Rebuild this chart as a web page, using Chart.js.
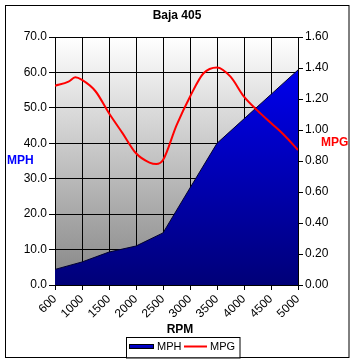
<!DOCTYPE html>
<html><head><meta charset="utf-8">
<script src="https://cdn.jsdelivr.net/npm/chart.js@4/dist/chart.umd.min.js"></script>
<style>html,body{margin:0;padding:0;background:#fff}#wrap{width:355px;height:363px}</style>
</head><body><div id="wrap"><canvas id="c" width="355" height="363"></canvas></div>
<script>
const chartTitle = "Baja 405";
const rpmLabels = [600, 1000, 1500, 2000, 2500, 3000, 3500, 4000, 4500, 5000];
const mphValues = [4.4, 6.5, 9.3, 11.0, 14.7, 27.4, 40.0, 46.9, 53.8, 60.7];
const mpgRpm = [600, 800, 900, 1000, 1250, 1500, 1750, 2000, 2250, 2375, 2500, 2750, 3000, 3250, 3500, 3750, 4000, 4250, 4500, 4750, 5000];
const mpgValues = [1.286, 1.312, 1.34, 1.323, 1.25, 1.108, 0.98, 0.85, 0.79, 0.78, 0.806, 1.03, 1.215, 1.366, 1.404, 1.344, 1.215, 1.125, 1.045, 0.965, 0.871];

function rpmToIndex(r){
  for (let i=0;i<rpmLabels.length-1;i++){
    if (r>=rpmLabels[i] && r<=rpmLabels[i+1]) return i + (r-rpmLabels[i])/(rpmLabels[i+1]-rpmLabels[i]);
  }
  return rpmLabels.length-1;
}
const mphData = mphValues.map((v,i)=>({x:i,y:v}));
const mpgData = mpgValues.map((v,i)=>({x:rpmToIndex(mpgRpm[i]),y:v}));
const FONT = "'Liberation Sans', Arial, sans-serif";

const decor = {
  id:'decor',
  beforeDraw(chart){
    const {ctx, chartArea:a} = chart;
    ctx.save();
    const g = ctx.createLinearGradient(0,a.top,0,a.bottom);
    g.addColorStop(0,'#ffffff'); g.addColorStop(1,'#858585');
    ctx.fillStyle = g;
    ctx.fillRect(a.left,a.top,a.right-a.left,a.bottom-a.top);
    ctx.restore();
  },
  afterDraw(chart){
    const {ctx, chartArea:a} = chart;
    ctx.save();
    ctx.strokeStyle='#000'; ctx.lineWidth=1;
    ctx.strokeRect(5.5,5.5,343.5,352);
    ctx.textBaseline='middle';
    ctx.fillStyle='#000'; ctx.font='bold 12px '+FONT; ctx.textAlign='center';
    ctx.fillText(chartTitle,177,16);
    ctx.fillText('RPM',180,330);
    ctx.fillStyle='#0000FF'; ctx.textAlign='left';
    ctx.fillText('MPH',7,160.5);
    ctx.fillStyle='#FF0000';
    ctx.fillText('MPG',321,142.5);
    // legend
    ctx.fillStyle='#fff';
    ctx.fillRect(126,337,114,20.5);
    ctx.strokeStyle='#000';
    ctx.strokeRect(126.5,337.5,113.5,20.5);
    const lg = ctx.createLinearGradient(0,344,0,349);
    lg.addColorStop(0,'#0000ee'); lg.addColorStop(1,'#000090');
    ctx.fillStyle=lg; ctx.fillRect(129.5,344.5,24,4);
    ctx.strokeRect(129.5,344.5,24,4);
    ctx.fillStyle='#000'; ctx.font='11px '+FONT;
    ctx.fillText('MPH',157,347);
    ctx.strokeStyle='#FF0000'; ctx.lineWidth=2;
    ctx.beginPath(); ctx.moveTo(184,346.5); ctx.lineTo(207,346.5); ctx.stroke();
    ctx.fillText('MPG',210,347);
    ctx.restore();
  }
};

new Chart(document.getElementById('c'), {
  type:'line',
  data:{datasets:[
    {label:'MPH', data:mphData, yAxisID:'y', fill:'origin', tension:0, pointRadius:0,
     borderColor:'#000030', borderWidth:1,
     backgroundColor:(ctx)=>{const a=ctx.chart.chartArea; if(!a) return '#0000cc';
       const g=ctx.chart.ctx.createLinearGradient(0,a.top,0,a.bottom);
       g.addColorStop(0,'#0000FF'); g.addColorStop(1,'#000078'); return g;}, order:2},
    {label:'MPG', data:mpgData, yAxisID:'y1', fill:false, cubicInterpolationMode:'monotone',
     pointRadius:0, borderColor:'#FF0000', borderWidth:2, order:1}
  ]},
  options:{
    responsive:false, animation:false, devicePixelRatio:1,
    layout:{padding:{top:37,bottom:26,left:0,right:0}},
    plugins:{legend:{display:false}, title:{display:false}, tooltip:{enabled:false}},
    scales:{
      x:{type:'linear', min:0, max:rpmLabels.length-1,
        afterFit:(s)=>{s.height=52;},
        grid:{color:'#000', lineWidth:1, tickLength:5, tickColor:'#000'},
        border:{color:'#000'},
        ticks:{stepSize:1, autoSkip:false, minRotation:45, maxRotation:45, color:'#000', padding:2,
          font:{family:FONT,size:12}, callback:(v)=>rpmLabels[v]!==undefined?String(rpmLabels[v]):''}},
      y:{type:'linear', position:'left', min:0, max:70,
        afterFit:(s)=>{s.width=55;},
        grid:{color:'#000', lineWidth:1, tickLength:6, tickColor:'#000'},
        border:{color:'#000'},
        ticks:{stepSize:10, color:'#000', padding:2, font:{family:FONT,size:12}, callback:(v)=>v.toFixed(1)}},
      y1:{type:'linear', position:'right', min:0, max:1.6,
        afterFit:(s)=>{s.width=57;},
        grid:{drawOnChartArea:false, tickLength:5, tickColor:'#000'},
        border:{color:'#000'},
        ticks:{stepSize:0.2, color:'#000', padding:2, font:{family:FONT,size:12}, callback:(v)=>v.toFixed(2)}}
    }
  },
  plugins:[decor]
});
</script></body></html>
